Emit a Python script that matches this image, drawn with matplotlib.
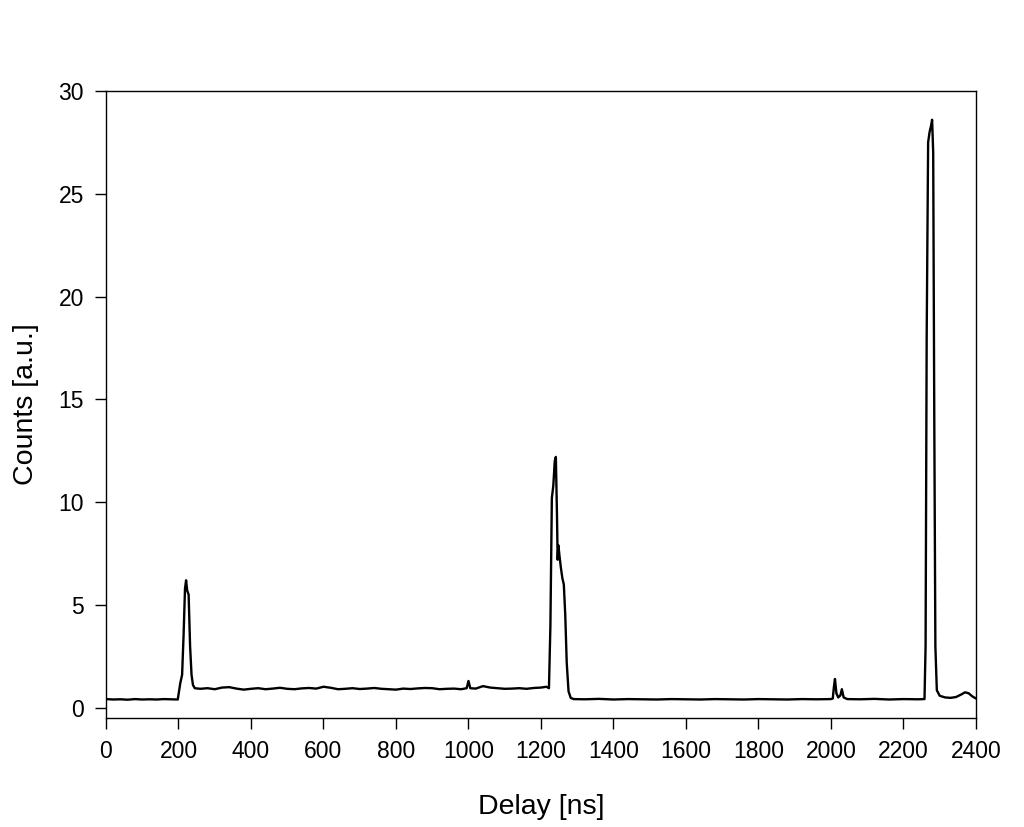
import matplotlib.pyplot as plt

plt.rcParams['font.family'] = ['Liberation Sans', 'DejaVu Sans']

# delay [ns] and counts
delay = [0, 20, 40, 60, 80, 100, 120, 140, 160, 180, 198,
         205, 210, 214, 218, 221, 224, 228, 232, 236, 240, 245,
         260, 280, 300, 320, 340, 360, 380, 400, 420, 440, 460, 480,
         500, 520, 540, 560, 580, 600, 620, 640, 660, 680, 700, 720,
         740, 760, 780, 800, 820, 840, 860, 880, 900, 920, 940, 960,
         980, 995, 1000, 1005, 1020, 1040, 1060, 1080, 1100, 1120, 1140,
         1160, 1180, 1200, 1215, 1222,
         1226, 1230, 1234, 1238, 1241, 1244, 1246, 1248, 1251, 1255,
         1259, 1263, 1267, 1271, 1276, 1282, 1290,
         1320, 1360, 1400, 1440, 1480, 1520, 1560, 1600, 1640, 1680, 1720,
         1760, 1800, 1840, 1880, 1920, 1960, 2000, 2005,
         2008, 2011, 2015, 2020, 2026, 2030, 2035, 2045,
         2080, 2120, 2160, 2200, 2240, 2258,
         2261, 2264, 2268, 2272, 2276, 2279, 2282, 2285, 2288, 2292, 2300,
         2315, 2330, 2345, 2360, 2370, 2380, 2390, 2400]
counts = [0.42, 0.40, 0.41, 0.39, 0.42, 0.40, 0.41, 0.40, 0.42, 0.41, 0.40,
          1.2, 1.6, 3.5, 5.8, 6.2, 5.7, 5.5, 3.0, 1.6, 1.1, 0.95,
          0.92, 0.95, 0.90, 0.98, 1.00, 0.93, 0.88, 0.92, 0.95, 0.90, 0.93, 0.97,
          0.92, 0.90, 0.94, 0.96, 0.93, 1.02, 0.97, 0.90, 0.92, 0.95, 0.91, 0.93,
          0.96, 0.92, 0.90, 0.88, 0.93, 0.91, 0.94, 0.96, 0.95, 0.90, 0.92, 0.93,
          0.90, 0.95, 1.30, 0.95, 0.93, 1.05, 0.98, 0.95, 0.92, 0.93, 0.95,
          0.92, 0.96, 0.98, 1.02, 0.95,
          4.0, 10.2, 10.8, 12.0, 12.2, 9.5, 7.2, 7.9, 7.4, 6.8,
          6.3, 6.0, 4.5, 2.2, 0.8, 0.48, 0.42,
          0.41, 0.43, 0.40, 0.42, 0.41, 0.40, 0.42, 0.41, 0.40, 0.42, 0.41,
          0.40, 0.42, 0.41, 0.40, 0.42, 0.41, 0.42, 0.45,
          1.0, 1.4, 0.7, 0.5, 0.6, 0.9, 0.5, 0.42,
          0.41, 0.43, 0.40, 0.42, 0.41, 0.42,
          3.0, 18.0, 27.5, 28.0, 28.3, 28.6, 27.0, 14.0, 3.0, 0.85, 0.58,
          0.50, 0.48, 0.52, 0.65, 0.75, 0.70, 0.55, 0.45]

fig = plt.figure(figsize=(10.24, 8.27), dpi=100)
ax = fig.add_axes([0.1035, 0.1318, 0.8496, 0.7582])
ax.plot(delay, counts, color='black', lw=1.7)

ax.set_xlim(0, 2400)
ax.set_ylim(-0.5, 30)
ax.set_xticks(range(0, 2401, 200))
ax.set_yticks(range(0, 31, 5))
ax.tick_params(direction='out', length=8, width=1, labelsize=16.5, pad=8)
for s in ax.spines.values():
    s.set_linewidth(1)

ax.set_xlabel('Delay [ns]', fontsize=20.5, labelpad=22)
ax.set_ylabel('Counts [a.u.]', fontsize=20.5, labelpad=14)

fig.savefig('out.png', dpi=100)
